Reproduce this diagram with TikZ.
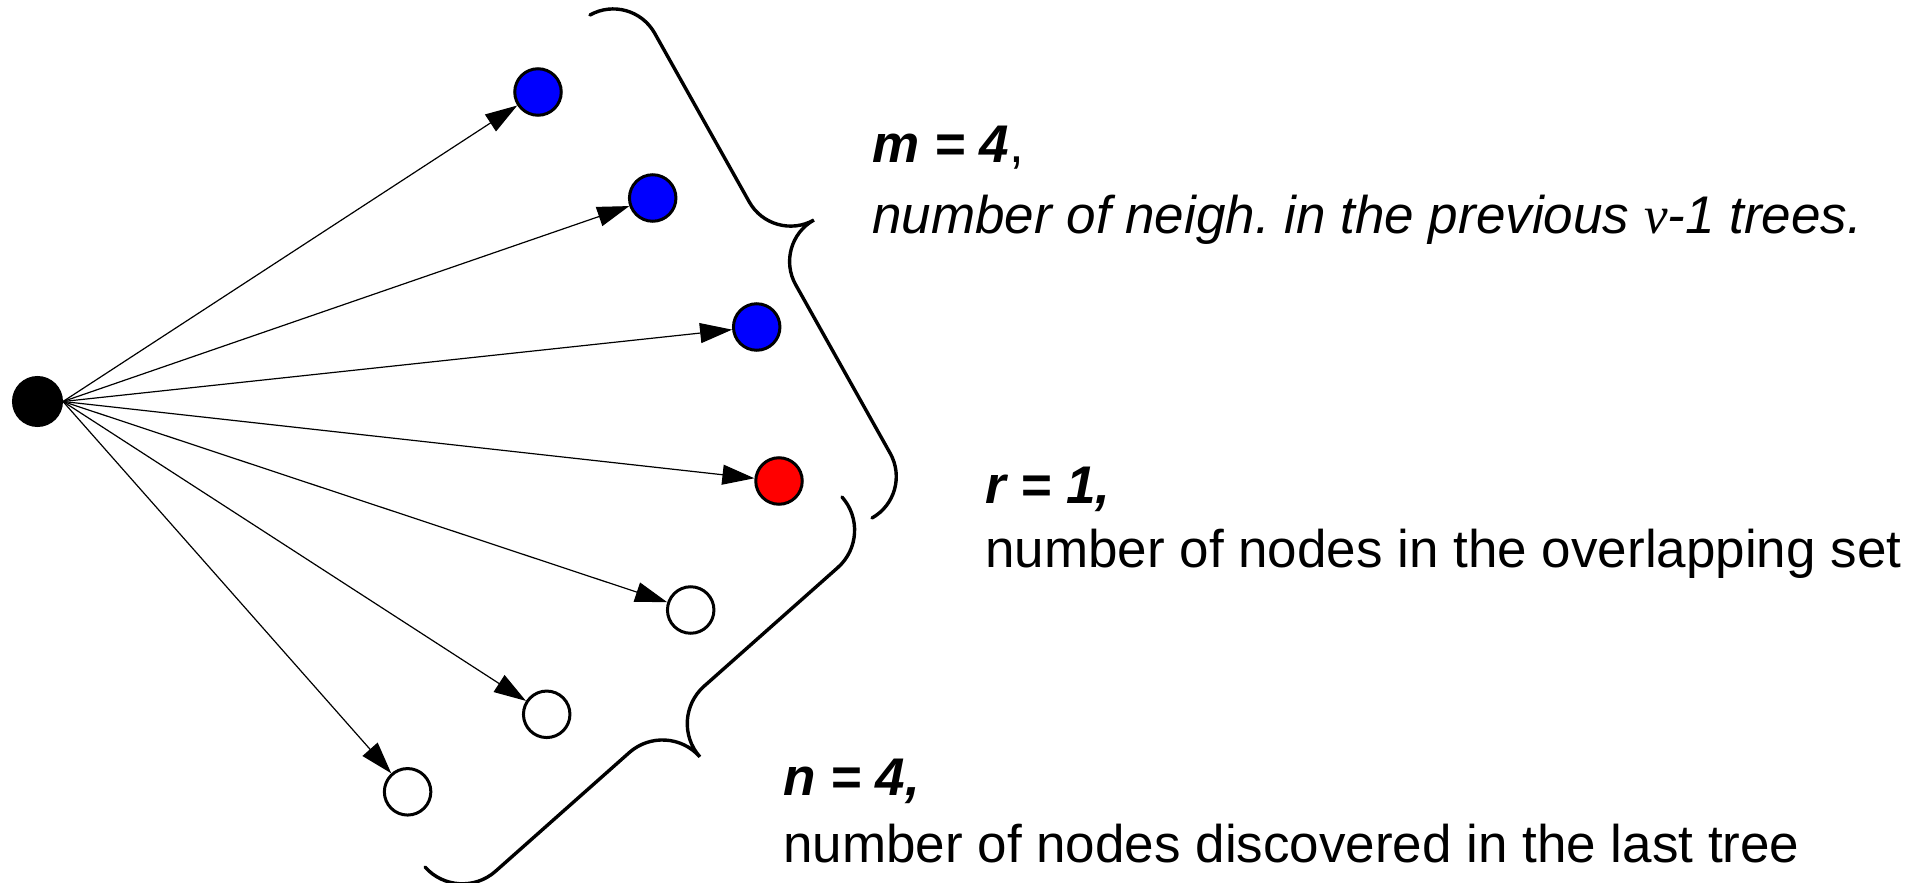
\documentclass[tikz,border=0pt]{standalone}
\usepackage{fontspec}
\setmainfont{Liberation Sans}
\newfontfamily\grkfont{Liberation Serif}
\usetikzlibrary{arrows.meta,calc}
\frenchspacing
\tikzset{
  nd/.style={circle, draw, line width=3pt, minimum size=46.5pt, inner sep=0pt},
  edge/.style={line width=1.2pt, -{Triangle[length=32pt,width=20pt]}},
  bracestyle/.style={line width=3.4pt, line cap=round},
  lab/.style={anchor=base west, inner sep=0pt, font=\fontsize{53}{60}\selectfont}
}
\newcommand\drawbrace[3]{%
  \pgfmathsetmacro\bk{0.5523*#3}%
  \pgfmathsetmacro\bq{(1-0.5523)*#3}%
  \pgfmathsetmacro\bt{(2-0.5523)*#3}%
  \pgfmathsetmacro\bh{2*#3}%
  \coordinate (bM) at ($(#1)!0.5!(#2)$);
  \draw[bracestyle] (#1)
   .. controls ($(#1)!\bk pt!90:(#2)$) and ($(#1)!\bq pt!(#2)!#3pt!90:(#2)$) .. ($(#1)!#3pt!(#2)!#3pt!90:(#2)$)
   -- ($(bM)!#3pt!(#1)!#3pt!-90:(#1)$)
   .. controls ($(bM)!\bq pt!(#1)!#3pt!-90:(#1)$) and ($(bM)!\bt pt!90:(#2)$) .. ($(bM)!\bh pt!90:(#2)$)
   .. controls ($(bM)!\bt pt!90:(#2)$) and ($(bM)!\bq pt!(#2)!#3pt!90:(#2)$) .. ($(bM)!#3pt!(#2)!#3pt!90:(#2)$)
   -- ($(#2)!#3pt!(#1)!#3pt!-90:(#1)$)
   .. controls ($(#2)!\bq pt!(#1)!#3pt!-90:(#1)$) and ($(#2)!\bk pt!-90:(#1)$) .. (#2);
}
\begin{document}
\begin{tikzpicture}[x=1pt,y=-1pt]
\useasboundingbox (0,0) rectangle (1931,883);
% nodes
\node[nd, fill=black, minimum size=48pt] (src) at (37.5,401.5) {};
\node[nd, fill=blue] (b1) at (538,92) {};
\node[nd, fill=blue] (b2) at (652.7,198) {};
\node[nd, fill=blue] (b3) at (756.7,327) {};
\node[nd, fill=red] (rd) at (779,481) {};
\node[nd, fill=white] (w1) at (690.7,610) {};
\node[nd, fill=white] (w2) at (546.7,714.3) {};
\node[nd, fill=white] (w3) at (407.6,791.8) {};
% edges
\foreach \t in {b1,b2,b3,rd,w1,w2,w3}
  \draw[edge] (src.east) -- (\t);
% braces
\coordinate (m1) at (590,15);
\coordinate (m2) at (872,518);
\coordinate (n1) at (842,497);
\coordinate (n2) at (425,867);
\drawbrace{m1}{m2}{47.5}
\drawbrace{n1}{n2}{50}
% labels
\node[lab] (mt) at (872,162) {\textbf{\textit{m = 4}},};
\node[lab] (md) at (872,233) {\textit{number of neigh. in the previous {\grkfont\itshape ν}-1 trees.}};
\node[lab] (rt) at (985,503) {\textbf{\textit{r = 1,}}};
\node[lab] (rdesc) at (985,567) {number of nodes in the overlapping set};
\node[lab] (nt) at (783,795) {\textbf{\textit{n = 4,}}};
\node[lab] (ndesc) at (783,862) {number of nodes discovered in the last tree};
\end{tikzpicture}
\end{document}
